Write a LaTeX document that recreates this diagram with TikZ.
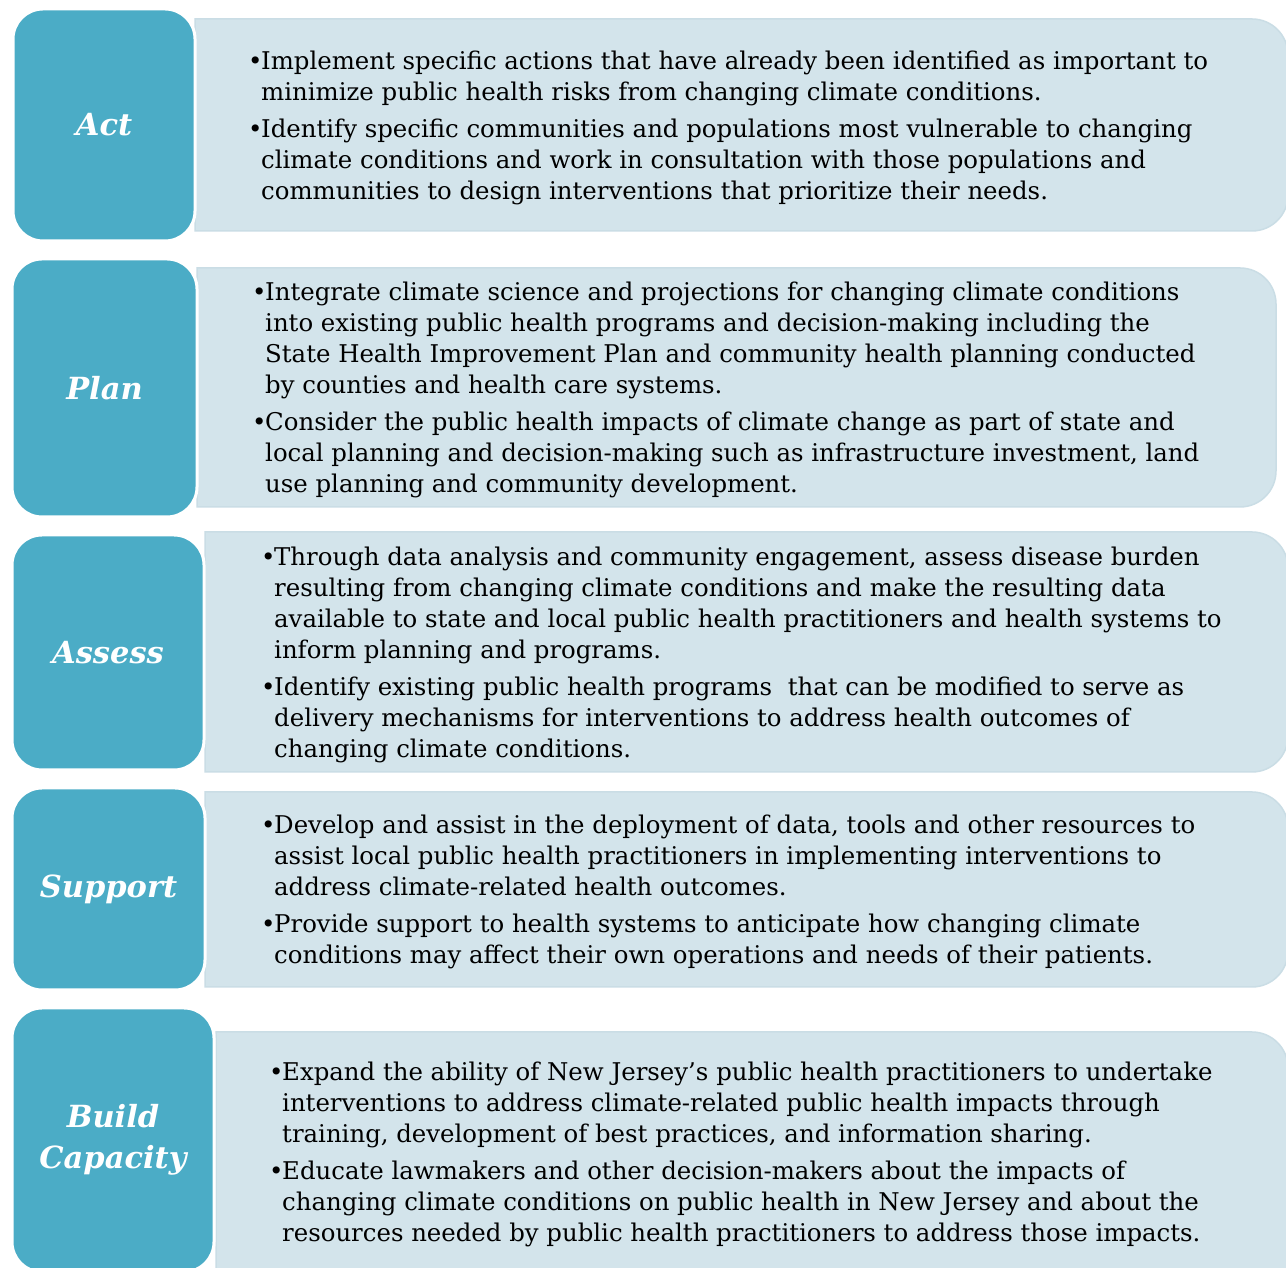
\documentclass[tikz,border=0pt]{standalone}
\usepackage{fontspec}
\setmainfont{DejaVu Serif}
\definecolor{stagefill}{HTML}{4BACC6}
\definecolor{panelfill}{HTML}{D3E4EB}
\definecolor{paneledge}{HTML}{CADDE5}
\newcommand\bul{\makebox[13pt][l]{•}}
\newcommand\ind{\hspace*{13pt}}
% rounded-right panel: left x, top y, right x, bottom y
\newcommand\sidepanel[4]{%
  \path[panel] (#1,#2) -- ({#3-36},#2) arc[start angle=90,end angle=0,radius=36pt]
    -- (#3,{#4+36}) arc[start angle=0,end angle=-90,radius=36pt] -- (#1,#4) -- cycle;}
\tikzset{
  panel/.style={fill=panelfill, draw=paneledge, line width=1.5pt},
  stage/.style={draw=white, line width=3pt, fill=stagefill, rounded corners=30pt,
    inner sep=0pt, text=white, align=center,
    font=\bfseries\itshape\fontsize{30.5}{41}\selectfont},
  % multi-line text: the base anchor sits on the last line
  bodytext/.style={anchor=base west, inner sep=0pt, align=left,
    font=\fontsize{24.4}{31}\selectfont, text=black},
}
\begin{document}
\begin{tikzpicture}[x=1pt,y=1pt]
\clip (0,0) rectangle (1286,1268);
\fill[white] (0,0) rectangle (1286,1268);

% right-hand panels
\sidepanel{195}{1249}{1288}{1037}
\sidepanel{197}{1000}{1276}{761}
\sidepanel{205}{736}{1288}{496}
\sidepanel{205}{476}{1288}{281}
\sidepanel{216}{236}{1288}{-30}

% stage boxes
\node[stage, minimum width=182pt, minimum height=232pt] (act) at (104,1143) {Act};
\node[stage, minimum width=185pt, minimum height=258pt] (plan) at (104.5,880) {Plan};
\node[stage, minimum width=192pt, minimum height=235pt] (assess) at (108,615.5) {Assess};
\node[stage, minimum width=193pt, minimum height=202pt] (support) at (108.5,379) {Support};
\node[stage, minimum width=202pt, minimum height=264pt] (build) at (113,128) {Build\\Capacity};

% bullet texts
\node[bodytext] (act-text) at (248,1068.5) {%
\bul Implement specific actions that have already been identified as important to\\
\ind minimize public health risks from changing climate conditions.\\[5.5pt]
\bul Identify specific communities and populations most vulnerable to changing\\
\ind climate conditions and work in consultation with those populations and\\
\ind communities to design interventions that prioritize their needs.};

\node[bodytext] (plan-text) at (252,775.5) {%
\bul Integrate climate science and projections for changing climate conditions\\
\ind into existing public health programs and decision-making including the\\
\ind State Health Improvement Plan and community health planning conducted\\
\ind by counties and health care systems.\\[5.5pt]
\bul Consider the public health impacts of climate change as part of state and\\
\ind local planning and decision-making such as infrastructure investment, land\\
\ind use planning and community development.};

\node[bodytext] (assess-text) at (261,510.5) {%
\bul Through data analysis and community engagement, assess disease burden\\
\ind resulting from changing climate conditions and make the resulting data\\
\ind available to state and local public health practitioners and health systems to\\
\ind inform planning and programs.\\[5.5pt]
\bul Identify existing public health programs\ \ that can be modified to serve as\\
\ind delivery mechanisms for interventions to address health outcomes of\\
\ind changing climate conditions.};

\node[bodytext] (support-text) at (261,304.5) {%
\bul Develop and assist in the deployment of data, tools and other resources to\\
\ind assist local public health practitioners in implementing interventions to\\
\ind address climate-related health outcomes.\\[5.5pt]
\bul Provide support to health systems to anticipate how changing climate\\
\ind conditions may affect their own operations and needs of their patients.};

\node[bodytext] (build-text) at (269,26.5) {%
\bul Expand the ability of New Jersey's public health practitioners to undertake\\
\ind interventions to address climate-related public health impacts through\\
\ind training, development of best practices, and information sharing.\\[5.5pt]
\bul Educate lawmakers and other decision-makers about the impacts of\\
\ind changing climate conditions on public health in New Jersey and about the\\
\ind resources needed by public health practitioners to address those impacts.};
\end{tikzpicture}
\end{document}
